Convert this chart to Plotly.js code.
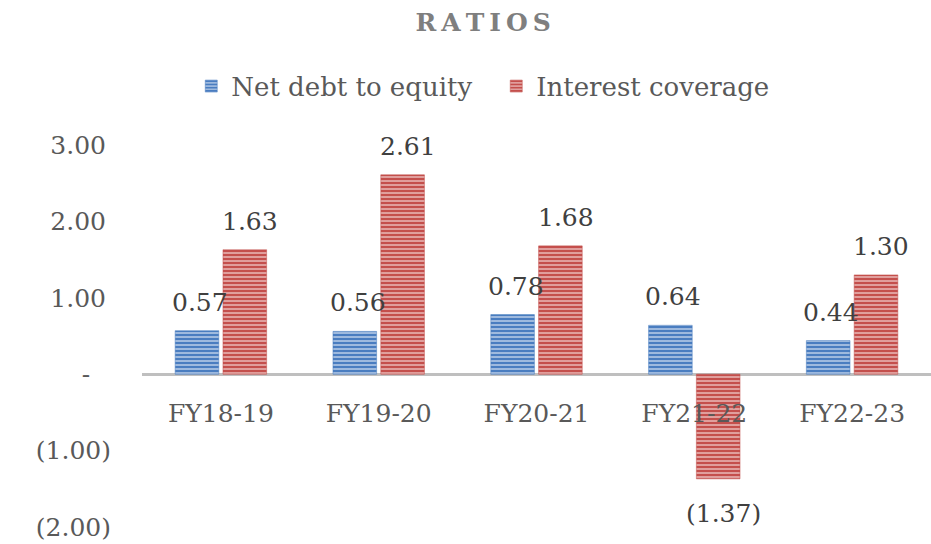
<!DOCTYPE html>
<html><head><meta charset="utf-8">
<script src="https://cdn.plot.ly/plotly-3.0.1.min.js"></script>
<style>html,body{margin:0;padding:0;background:#fff}#chart{width:931px;height:544px}</style>
</head><body><div id="chart"></div>
<script>
const categories = ["FY18-19","FY19-20","FY20-21","FY21-22","FY22-23"];
const netDebtToEquity = [0.57, 0.56, 0.78, 0.64, 0.44];
const interestCoverage = [1.63, 2.61, 1.68, -1.37, 1.30];
const yTickVals = [-2, -1, 0, 1, 2, 3];
const yTickText = ["(2.00)", "(1.00)", "-\u2007\u2009", "1.00\u2009", "2.00\u2009", "3.00\u2009"];
const yRange = [-2, 3];

const FONT = "DejaVu Serif";
const fmt = v => v < 0 ? "(" + Math.abs(v).toFixed(2) + ")" : v.toFixed(2);

function barTrace(name, vals, fg, bg, line) {
  return {
    type: "bar", name: name, x: categories, y: vals,
    marker: {
      color: bg,
      line: {color: line, width: 1},
      pattern: {shape: "-", fgcolor: fg, bgcolor: bg, fgopacity: 1, size: 4, solidity: 0.7, fillmode: "overlay"}
    },
    hoverinfo: "skip"
  };
}

const traces = [
  barTrace("Net debt to equity", netDebtToEquity, "#4a7dc0", "#d6e2f3", "rgba(74,125,192,0.5)"),
  barTrace("Interest coverage", interestCoverage, "#c44f4c", "#f3d3d2", "rgba(196,79,76,0.5)")
];

const annotations = [];
function addLabels(vals, xshift) {
  vals.forEach((v, i) => {
    annotations.push({
      x: categories[i], y: v, xref: "x", yref: "y", text: fmt(v), showarrow: false,
      xshift: xshift, yshift: v >= 0 ? 12 : -18, yanchor: v >= 0 ? "bottom" : "top",
      font: {family: FONT, size: 25, color: "#404040"}
    });
  });
}
addLabels(netDebtToEquity, -21);
addLabels(interestCoverage, 29);

const layout = {
  width: 931, height: 544,
  margin: {l: 142, r: 0, t: 145, b: 17},
  paper_bgcolor: "#fff", plot_bgcolor: "#fff",
  font: {family: FONT, size: 25, color: "#595959"},
  title: {
    text: "<b>R\u2009A\u2009T\u2009I\u2009O\u2009S</b>",
    font: {family: FONT, size: 25, color: "#7f7f7f"},
    x: 0.519, xref: "container", xanchor: "center",
    y: 1 - 22/544, yref: "container", yanchor: "middle"
  },
  showlegend: true,
  legend: {
    orientation: "h", x: 0.449, xanchor: "center", y: 1.154, yanchor: "middle",
    font: {family: FONT, size: 26, color: "#595959"},
    itemwidth: 30, entrywidth: 260, traceorder: "normal"
  },
  barmode: "group", bargap: 0.394, bargroupgap: 0.087,
  xaxis: {
    type: "category", anchor: "free",
    position: (0 - yRange[0]) / (yRange[1] - yRange[0]),
    showline: false, showgrid: false, zeroline: false, ticks: "",
    ticklabelstandoff: 22,
    tickfont: {family: FONT, size: 25, color: "#595959"}
  },
  yaxis: {
    range: yRange, tickvals: yTickVals, ticktext: yTickText,
    showgrid: false, zeroline: true, zerolinecolor: "#bfbfbf", zerolinewidth: 3,
    showline: false, ticks: "", ticklabelstandoff: 30,
    tickfont: {family: FONT, size: 25, color: "#595959"}
  },
  annotations: annotations
};

Plotly.newPlot("chart", traces, layout, {displayModeBar: false, staticPlot: true});
</script></body></html>
